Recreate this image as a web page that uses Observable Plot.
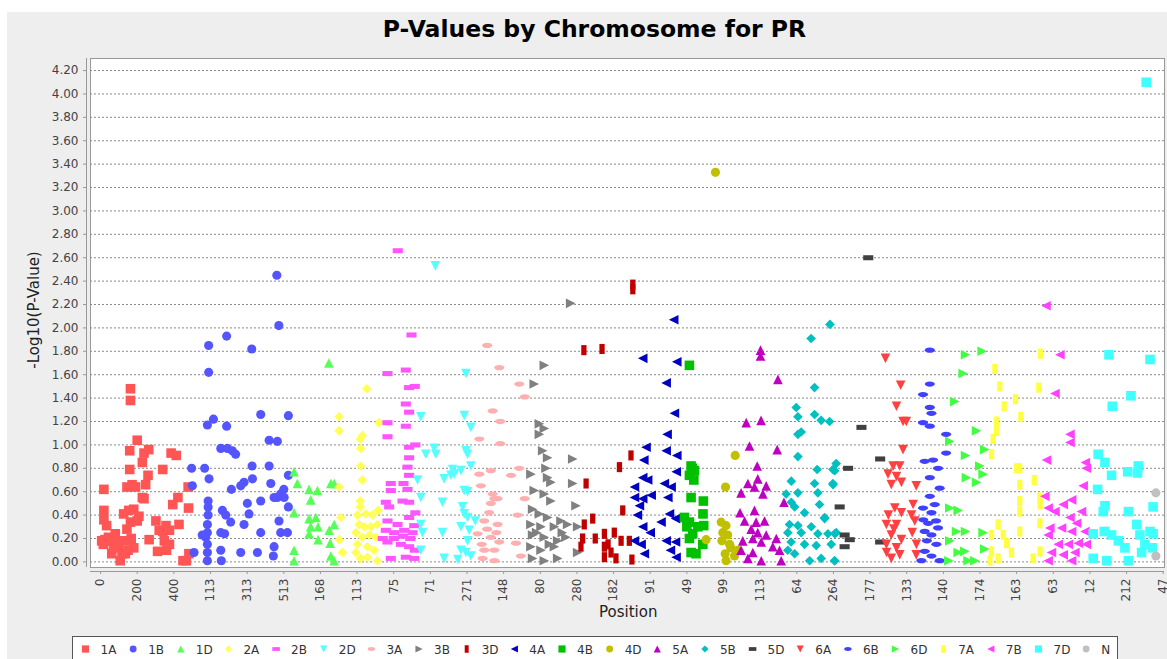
<!DOCTYPE html>
<html><head><meta charset="utf-8">
<script src="https://cdn.jsdelivr.net/npm/d3@7"></script>
<script src="https://cdn.jsdelivr.net/npm/@observablehq/plot@0.6"></script>
<style>
body{margin:0;background:#fff;width:1167px;height:659px;overflow:hidden;position:relative;font-family:"DejaVu Sans",sans-serif;}
#panel{position:absolute;left:7px;top:12px;width:1160px;height:660px;background:#eeeeee;}
#title{position:absolute;left:0;top:16px;width:1189px;text-align:center;font:bold 23.5px "DejaVu Sans";line-height:26px;color:#000;white-space:nowrap;}
#chart{position:absolute;left:0;top:0;}
#xlabel{position:absolute;left:599px;top:603px;font:15px "DejaVu Sans";color:#222;white-space:nowrap;}
#ylabel{position:absolute;left:34px;top:310px;font:15px "DejaVu Sans";color:#222;white-space:nowrap;transform:translate(-50%,-50%) rotate(-90deg);}
#legend{position:absolute;left:72px;top:636px;width:1044px;height:30px;background:#fff;border:1px solid #555;}
</style></head>
<body>
<div id="panel"></div>
<div id="title">P-Values by Chromosome for PR</div>
<div id="chart"></div>
<div id="xlabel">Position</div>
<div id="ylabel">-Log10(P-Value)</div>
<div id="legend"></div>
<script>
// ---- data: [cumulative position, -log10(p)] per chromosome ----
const chromosomes = ["1A","1B","1D","2A","2B","2D","3A","3B","3D","4A","4B","4D","5A","5B","5D","6A","6B","6D","7A","7B","7D","N"];
const xTickLabels = ["0","200","400","113","313","513","168","113","75","71","271","148","80","280","182","91","49","99","113","64","264","177","133","140","174","163","63","12","212","47"];
const yTickValues = [0,0.2,0.4,0.6,0.8,1.0,1.2,1.4,1.6,1.8,2.0,2.2,2.4,2.6,2.8,3.0,3.2,3.4,3.6,3.8,4.0,4.2];

const chr1A = [[18,0.62],[18,0.44],[18,0.36],[33,0.31],[6,0.18],[15,0.15],[43,0.21],[61,0.18],[80,0.24],[89,0.18],[98,0.14],[107,0.01],[117,0.07],[126,0.41],[135,0.18],[144,0.28],[154,0.44],[163,0.34],[163,1.48],[163,1.38],[159,0.95],[159,0.79],[144,0.64],[172,0.66],[191,0.64],[181,0.45],[200,0.35],[209,0.39],[200,1.04],[237,0.93],[263,0.96],[228,0.85],[259,0.74],[237,0.54],[246,0.66],[228,0.55],[265,0.19],[302,0.35],[311,0.09],[320,0.27],[339,0.79],[348,0.18],[357,0.31],[376,0.27],[376,0.15],[385,0.93],[394,0.49],[413,0.91],[422,0.55],[428,0.32],[450,0.01],[478,0.64],[480,0.46],[482,0.07],[468,0.01],[61,0.07],[135,0.07],[181,0.12],[24,0.19],[52,0.2],[70,0.12],[150,0.1],[167,0.2],[340,0.26],[360,0.1]];
const chr1B = [[497,0.80],[501,0.65],[510,0.08],[568,0.80],[592,0.71],[587,0.52],[587,0.47],[587,0.40],[583,0.32],[583,0.25],[574,0.21],[583,0.15],[583,0.08],[583,0.01],[555,0.23],[590,1.62],[583,1.17],[616,1.22],[688,1.16],[656,0.97],[692,0.97],[719,0.95],[737,0.92],[665,0.44],[683,0.40],[710,0.34],[656,0.25],[677,0.24],[656,0.10],[659,0.01],[714,0.62],[765,0.65],[783,0.68],[829,0.71],[827,0.82],[874,1.26],[801,0.50],[810,0.41],[783,0.32],[765,0.08],[874,0.52],[874,0.25],[856,0.08],[920,1.04],[965,1.03],[920,0.82],[929,0.67],[947,0.55],[983,0.58],[1002,0.55],[1025,0.47],[974,0.35],[983,0.25],[1020,0.25],[947,0.13],[943,0.05],[1025,0.74],[1025,1.25],[590,1.85],[688,1.93],[825,1.82],[962,2.45],[973,2.02],[1000,0.62],[965,0.55]];
const chr1D = [[1056,0.77],[1074,0.67],[1056,0.42],[1138,0.62],[1184,0.61],[1147,0.53],[1138,0.37],[1175,0.38],[1187,0.30],[1147,0.30],[1138,0.24],[1187,0.19],[1056,0.10],[1056,0.01],[1257,0.67],[1275,0.67],[1248,0.27],[1253,0.16],[1275,0.32],[1257,0.05],[1275,0.01],[1246,1.70]];
const chr2A = [[1302,1.24],[1302,1.12],[1453,1.48],[1520,1.19],[1429,1.08],[1417,1.05],[1420,0.97],[1420,0.82],[1429,0.70],[1302,0.64],[1311,0.38],[1302,0.19],[1320,0.08],[1417,0.52],[1417,0.47],[1402,0.40],[1448,0.41],[1484,0.40],[1515,0.44],[1411,0.32],[1439,0.30],[1475,0.30],[1511,0.32],[1393,0.25],[1429,0.21],[1466,0.23],[1502,0.21],[1402,0.15],[1457,0.13],[1493,0.10],[1393,0.08],[1420,0.03],[1457,0.04],[1511,0.01]];
const chr2B = [[1566,1.61],[1666,1.64],[1684,1.49],[1715,1.50],[1666,1.35],[1684,1.28],[1566,1.19],[1666,1.16],[1566,1.07],[1684,0.98],[1718,1.00],[1684,0.89],[1675,0.81],[1684,0.74],[1584,0.67],[1584,0.61],[1653,0.67],[1675,0.62],[1557,0.51],[1575,0.47],[1648,0.52],[1684,0.51],[1718,0.42],[1566,0.35],[1621,0.32],[1684,0.38],[1712,0.31],[1557,0.27],[1602,0.25],[1657,0.27],[1703,0.25],[1566,0.17],[1639,0.15],[1684,0.13],[1715,0.10],[1584,0.03],[1666,0.04],[1712,0.03],[1622,2.66],[1697,1.94],[1540,0.2],[1600,0.2],[1650,0.22],[1690,0.2]];
const chr2D = [[1748,1.24],[1730,0.70],[1748,0.55],[1775,0.92],[1830,0.92],[1821,0.97],[1866,0.51],[1875,0.71],[1912,0.74],[1921,0.79],[1994,1.61],[1985,1.25],[2021,1.15],[1994,0.95],[2003,0.92],[1967,0.78],[2021,0.82],[1985,0.61],[2003,0.60],[1976,0.47],[1985,0.41],[1748,0.32],[1757,0.25],[1748,0.10],[1866,0.25],[1875,0.03],[1967,0.30],[2012,0.27],[2003,0.18],[1967,0.10],[2021,0.05],[1930,0.75],[2003,0.38],[2045,0.35],[1994,0.08],[1950,0.02],[1827,2.53]];
const chr3A = [[2176,1.66],[2285,1.52],[2315,1.41],[2140,1.29],[2181,1.20],[2067,1.05],[2181,1.01],[2285,0.80],[2240,0.74],[2130,0.78],[2067,0.75],[2076,0.65],[2140,0.58],[2149,0.54],[2130,0.50],[2167,0.54],[2121,0.42],[2276,0.40],[2315,0.54],[2094,0.35],[2167,0.32],[2058,0.24],[2130,0.21],[2176,0.17],[2267,0.16],[2094,0.10],[2149,0.10],[2294,0.05],[2085,0.03],[2149,0.01],[2110,1.85],[2110,0.28],[2160,0.25],[2080,0.15]];
const chr3B = [[2422,1.68],[2367,1.52],[2395,1.18],[2422,1.14],[2395,1.09],[2413,0.95],[2440,0.89],[2577,0.88],[2349,0.75],[2431,0.80],[2440,0.72],[2458,0.68],[2577,0.67],[2367,0.61],[2422,0.58],[2458,0.52],[2595,0.48],[2358,0.45],[2395,0.41],[2440,0.38],[2513,0.35],[2349,0.32],[2404,0.30],[2477,0.30],[2549,0.32],[2604,0.30],[2358,0.23],[2422,0.21],[2495,0.18],[2540,0.21],[2349,0.13],[2404,0.10],[2477,0.13],[2604,0.08],[2358,0.03],[2422,0.01],[2495,0.03],[2566,2.21],[2380,0.25],[2450,0.15],[2520,0.25]];
const chr3D = [[2638,1.81],[2737,1.82],[2905,2.37],[2905,2.33],[2650,0.67],[2832,0.81],[2895,0.91],[2850,0.44],[2686,0.37],[2640,0.32],[2631,0.20],[2622,0.13],[2750,0.24],[2804,0.25],[2841,0.18],[2886,0.18],[2750,0.13],[2786,0.08],[2813,0.03],[2900,0.02],[2750,0.04],[2700,0.2],[2770,0.15]];
const chr4A = [[2959,1.74],[3145,1.71],[3087,1.53],[3132,1.27],[3092,1.09],[2977,0.98],[3087,0.95],[3145,0.91],[2965,0.87],[3142,0.77],[2959,0.72],[2914,0.64],[2986,0.70],[3077,0.67],[3114,0.64],[2914,0.55],[2959,0.54],[3005,0.57],[3096,0.55],[2941,0.48],[3105,0.41],[3138,0.37],[3059,0.34],[2959,0.30],[2914,0.18],[2950,0.15],[3087,0.18],[3138,0.17],[2968,0.07],[3141,0.04],[3128,2.07],[2930,0.4],[3000,0.25],[3110,0.1]];
const chr4B = [[3214,1.68],[3223,0.82],[3241,0.78],[3214,0.74],[3238,0.70],[3223,0.55],[3290,0.52],[3187,0.38],[3214,0.34],[3288,0.41],[3292,0.31],[3260,0.30],[3232,0.24],[3214,0.20],[3287,0.15],[3223,0.08],[3250,0.07],[3230,0.8],[3200,0.3]];
const chr4D = [[3464,0.91],[3411,0.64],[3387,0.34],[3414,0.31],[3396,0.25],[3423,0.23],[3391,0.18],[3433,0.15],[3478,0.10],[3409,0.07],[3414,0.01],[3305,0.19],[3356,3.33],[3440,0.12],[3460,0.05]];
const chr5A = [[3602,1.81],[3602,1.76],[3697,1.56],[3524,1.19],[3605,1.21],[3542,0.99],[3693,0.96],[3584,0.82],[3587,0.71],[3533,0.67],[3569,0.64],[3633,0.65],[3496,0.59],[3615,0.58],[3730,0.51],[3490,0.42],[3515,0.35],[3569,0.44],[3578,0.34],[3624,0.35],[3551,0.28],[3587,0.25],[3633,0.23],[3505,0.18],[3560,0.20],[3606,0.17],[3688,0.20],[3496,0.10],[3560,0.08],[3669,0.13],[3706,0.10],[3533,0.03],[3606,0.01],[3715,0.01]];
const chr5B = [[3897,1.49],[3797,1.32],[3806,1.24],[3897,1.26],[3933,1.21],[3979,1.20],[3824,1.11],[3806,1.09],[3806,0.90],[4015,0.84],[3911,0.79],[3997,0.79],[3770,0.69],[3897,0.67],[3997,0.67],[3742,0.58],[3806,0.59],[3915,0.59],[3770,0.51],[3924,0.49],[3788,0.47],[3842,0.42],[3952,0.38],[3760,0.32],[3806,0.31],[3879,0.30],[3751,0.25],[3824,0.25],[3915,0.24],[3970,0.24],[4015,0.25],[3769,0.17],[3842,0.15],[3906,0.14],[3988,0.15],[3751,0.10],[3788,0.07],[3870,0.01],[3933,0.03],[4006,0.01],[3981,2.03],[3878,1.91],[4007,0.78],[3998,0.66],[3952,0.37],[4007,0.24],[4007,0.01]];
const chr5D = [[4190,2.60],[4153,1.15],[4080,0.80],[4255,0.88],[4034,0.47],[4061,0.23],[4089,0.19],[4061,0.13],[4255,0.17]];
const chr6A = [[4284,1.74],[4367,1.51],[4344,1.33],[4380,1.20],[4398,1.20],[4380,0.96],[4326,0.82],[4362,0.82],[4298,0.75],[4344,0.73],[4316,0.66],[4371,0.68],[4452,0.65],[4335,0.46],[4371,0.42],[4435,0.49],[4426,0.40],[4289,0.32],[4344,0.32],[4444,0.35],[4316,0.23],[4371,0.19],[4289,0.15],[4344,0.12],[4453,0.15],[4316,0.03],[4362,0.06],[4452,0.06],[4300,0.4],[4330,0.28],[4290,0.08],[4430,0.25]];
const chr6B = [[4526,1.81],[4526,1.52],[4489,1.43],[4526,1.32],[4535,1.27],[4489,1.19],[4526,1.16],[4615,1.09],[4615,0.93],[4498,0.86],[4544,0.87],[4571,0.80],[4526,0.72],[4580,0.63],[4526,0.56],[4489,0.46],[4535,0.42],[4571,0.29],[4498,0.26],[4535,0.23],[4562,0.15],[4498,0.09],[4535,0.05],[4580,0.01],[4480,0.01],[4517,0.33],[4553,0.49],[4490,0.36],[4510,0.18],[4560,0.35]];
const chr6D = [[4721,1.77],[4812,1.80],[4708,1.61],[4662,1.37],[4781,1.12],[4635,1.03],[4826,0.96],[4721,0.91],[4799,0.82],[4817,0.75],[4726,0.72],[4781,0.68],[4635,0.46],[4681,0.44],[4672,0.26],[4721,0.26],[4817,0.25],[4635,0.18],[4681,0.08],[4717,0.09],[4772,0.01],[4826,0.11],[4630,0.01],[4735,0.01]];
const chr7A = [[5130,1.78],[4881,1.65],[4908,1.50],[4994,1.39],[4932,1.33],[5121,1.49],[5023,1.24],[4890,1.20],[4890,1.12],[4872,1.05],[4863,0.92],[4999,0.80],[5017,0.80],[5096,0.70],[5017,0.66],[5017,0.52],[5127,0.55],[5128,0.49],[5017,0.43],[4899,0.32],[4927,0.23],[4863,0.23],[5017,0.26],[5127,0.33],[4945,0.16],[4972,0.08],[4863,0.09],[4899,0.03],[5090,0.03],[5128,0.09],[4854,0.01]];
const chr7B = [[5236,1.77],[5209,1.44],[5291,1.09],[5291,1.02],[5163,0.87],[5375,0.85],[5380,0.80],[5363,0.65],[5154,0.56],[5300,0.53],[5254,0.49],[5172,0.46],[5209,0.43],[5354,0.43],[5291,0.38],[5327,0.33],[5181,0.29],[5245,0.29],[5300,0.26],[5373,0.26],[5172,0.23],[5227,0.15],[5282,0.15],[5336,0.16],[5380,0.15],[5190,0.08],[5254,0.06],[5318,0.08],[5172,0.01],[5300,0.01],[5160,2.19]];
const chr7D = [[5504,1.77],[5728,1.73],[5624,1.42],[5522,1.33],[5445,0.92],[5482,0.85],[5518,0.74],[5606,0.77],[5664,0.82],[5660,0.76],[5442,0.62],[5482,0.48],[5473,0.43],[5610,0.43],[5745,0.47],[5418,0.24],[5478,0.26],[5518,0.23],[5555,0.18],[5591,0.12],[5655,0.32],[5673,0.23],[5728,0.26],[5745,0.24],[5700,0.15],[5740,0.12],[5418,0.03],[5491,0.01],[5610,0.01],[5682,0.08],[5707,4.10]];
const chrN = [[5760,0.59],[5760,0.05]];

const seriesData = [chr1A,chr1B,chr1D,chr2A,chr2B,chr2D,chr3A,chr3B,chr3D,chr4A,chr4B,chr4D,chr5A,chr5B,chr5D,chr6A,chr6B,chr6D,chr7A,chr7B,chr7D,chrN];

// ---- styles ----
const seriesColors = ["#FF5555","#5555FF","#55FF55","#FFFF55","#FF55FF","#55FFFF","#FFAFAF","#808080","#C00000","#0000C0","#00C000","#C0C000","#C000C0","#00C0C0","#404040","#FF4040","#4040FF","#40FF40","#FFFF40","#FF40FF","#40FFFF","#C0C0C0"];

function mk(fn){ return {draw(ctx, size){ const r = Math.sqrt(size/Math.PI); fn(ctx, r); }}; }
function ell(ctx, rx, ry){
  const k = 0.5523;
  ctx.moveTo(rx,0);
  ctx.bezierCurveTo(rx, ry*k, rx*k, ry, 0, ry);
  ctx.bezierCurveTo(-rx*k, ry, -rx, ry*k, -rx, 0);
  ctx.bezierCurveTo(-rx, -ry*k, -rx*k, -ry, 0, -ry);
  ctx.bezierCurveTo(rx*k, -ry, rx, -ry*k, rx, 0);
  ctx.closePath();
}
const shapes = [
  mk((c,r)=>{c.rect(-r,-r,2*r,2*r);}),                                        // square
  mk((c,r)=>{const q=r*0.95; c.moveTo(q,0); c.arc(0,0,q,0,2*Math.PI); c.closePath();}), // circle
  mk((c,r)=>{c.moveTo(0,-r); c.lineTo(r,r); c.lineTo(-r,r); c.closePath();}),  // up triangle
  mk((c,r)=>{c.moveTo(0,-r); c.lineTo(r,0); c.lineTo(0,r); c.lineTo(-r,0); c.closePath();}), // diamond
  mk((c,r)=>{c.rect(-r*1.05,-r*0.52,2.1*r,1.05*r);}),                          // horizontal rect
  mk((c,r)=>{c.moveTo(-r,-r); c.lineTo(r,-r); c.lineTo(0,r); c.closePath();}), // down triangle
  mk((c,r)=>{ell(c, r*1.05, r*0.55);}),                                        // horizontal ellipse
  mk((c,r)=>{c.moveTo(-r,-r); c.lineTo(r,0); c.lineTo(-r,r); c.closePath();}), // right triangle
  mk((c,r)=>{c.rect(-r*0.55,-r*1.05,1.1*r,2.1*r);}),                           // vertical rect
  mk((c,r)=>{c.moveTo(r,-r); c.lineTo(-r,0); c.lineTo(r,r); c.closePath();})   // left triangle
];

const xTicks = xTickLabels.map((_, i) => i*200);

const dotMarks = seriesData.map((pts, i) =>
  Plot.dot(pts, {x: d => d[0], y: d => d[1], symbol: shapes[i % 10], r: 4.8, fill: seriesColors[i], stroke: "none"})
);

const chart = Plot.plot({
  width: 1167, height: 625,
  marginLeft: 90, marginRight: 3, marginTop: 58, marginBottom: 58,
  x: {type: "linear", domain: [-55, 5807]},
  y: {type: "linear", domain: [-0.048, 4.303]},
  style: {background: "transparent", fontFamily: "DejaVu Sans", fontSize: "12px", color: "#444"},
  marks: [
    Plot.frame({fill: "white", stroke: "#999"}),
    Plot.gridY(yTickValues, {stroke: "#8a8a8a", strokeOpacity: 1, strokeDasharray: "2,2"}),
    Plot.ruleX([-55], {dx: -4, stroke: "#999"}),
    Plot.ruleY([-0.048], {dy: 4, stroke: "#999"}),
    Plot.axisY(yTickValues, {tickFormat: d => d.toFixed(2), tickSize: 3, dx: -4, tickPadding: 5, label: null, stroke: "#999", fill: "#444"}),
    Plot.axisX(xTicks, {tickFormat: d => xTickLabels[Math.round(d/200)], tickRotate: -90, tickSize: 3, dy: 4, tickPadding: 4, label: null, stroke: "#999", fill: "#444"}),
    ...dotMarks
  ]
});
document.getElementById("chart").appendChild(chart);

// ---- legend ----
const lg = d3.select("#legend").append("svg").attr("width", 1044).attr("height", 30);
chromosomes.forEach((name, i) => {
  const cx = 12.5 + i*47.65;
  const p = d3.path();
  shapes[i % 10].draw(p, 3.6*3.6*Math.PI);
  lg.append("path").attr("d", p.toString()).attr("transform", `translate(${cx},12)`).attr("fill", seriesColors[i]);
  lg.append("text").attr("x", cx + 15).attr("y", 17).text(name)
    .attr("font-family", "DejaVu Sans").attr("font-size", 12).attr("fill", "#333");
});
</script>
</body></html>
